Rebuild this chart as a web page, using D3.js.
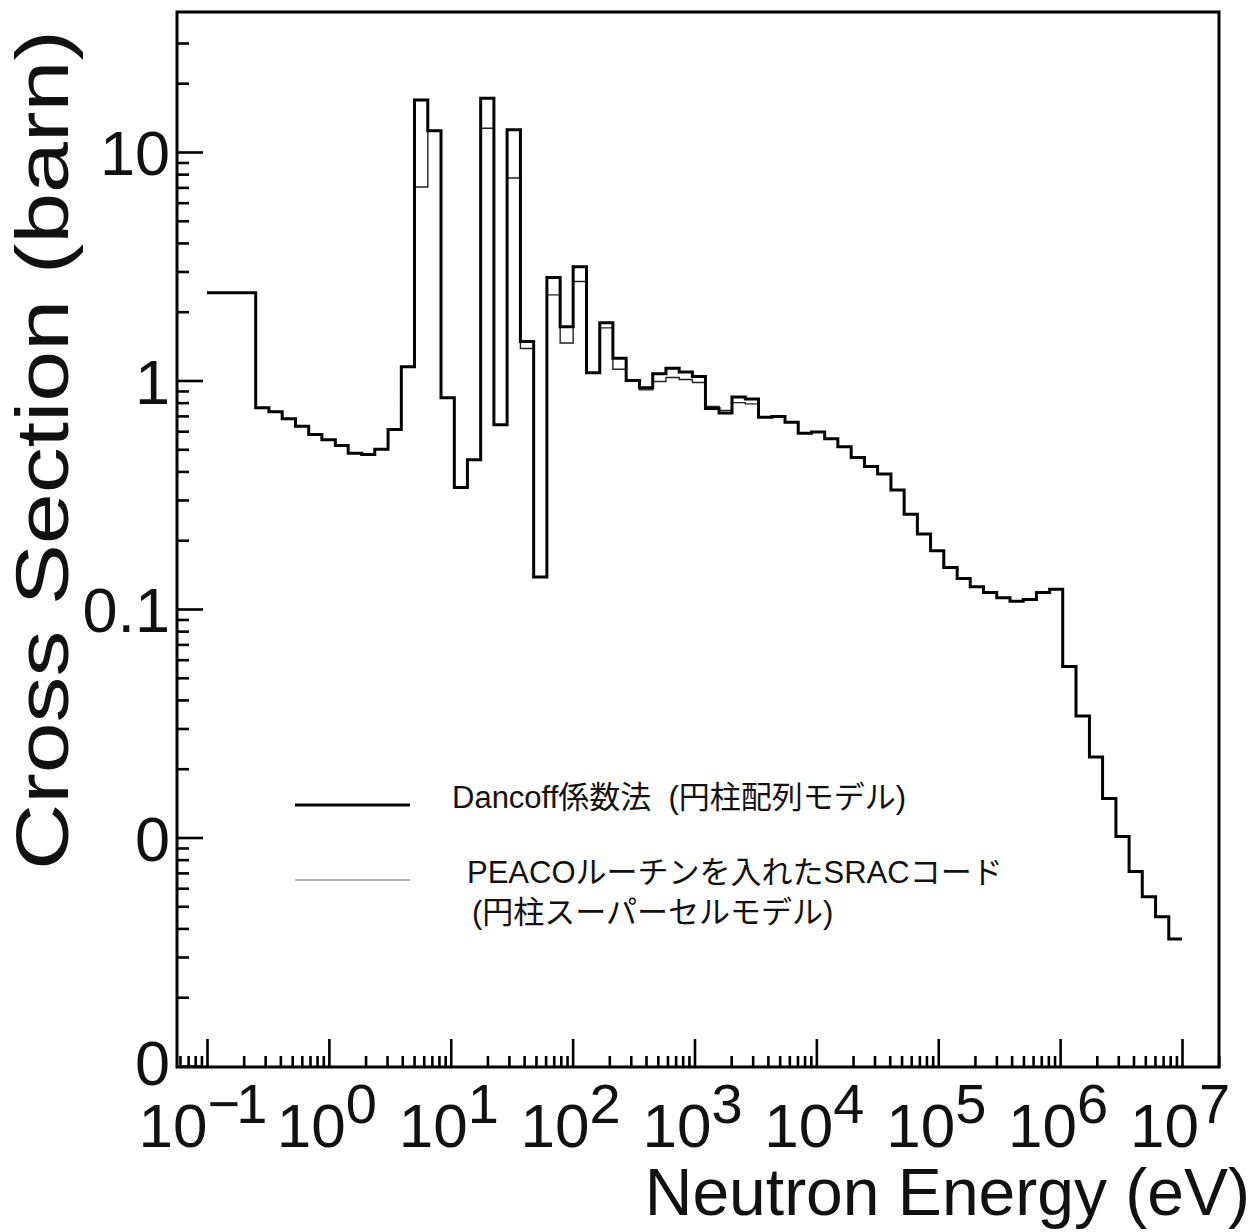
<!DOCTYPE html>
<html>
<head>
<meta charset="utf-8">
<script src="https://cdn.jsdelivr.net/npm/d3@7"></script>
<style>
    body { margin: 0; background: #fff; }
    svg { display: block; }
    text { font-family: "Liberation Sans", Arial, Helvetica, "Noto Sans CJK JP", sans-serif; fill: #111; }
</style>
</head>
<body>
<div id="chart"></div>
<script>
// group boundaries (eV), lowest to highest
var energyEdges = [0.1, 0.251, 0.322, 0.414, 0.532, 0.683, 0.876, 1.13, 1.44, 1.86, 2.38, 3.06, 3.93, 5.04,
    6.48, 8.32, 10.7, 13.7, 17.6, 22.6, 29.0, 37.3, 47.9, 61.5, 79.0, 101, 130, 167, 214, 275, 354, 454,
    583, 749, 961, 1230, 1590, 2030, 2610, 3350, 4310, 5530, 7100, 9120, 11700, 15000, 19300, 24800,
    31800, 40900, 52500, 67400, 86500, 111000, 143000, 183000, 235000, 302000, 388000, 498000, 639000,
    821000, 1050000, 1350000, 1740000, 2230000, 2870000, 3680000, 4720000, 6070000, 7790000, 10000000];

// group cross sections (barn) - Dancoff method (thick line)
var dancoffXS = [2.42, 0.76, 0.73, 0.68, 0.63, 0.58, 0.55, 0.52, 0.48, 0.475, 0.50, 0.61, 1.15,
    16.9, 12.4, 0.84, 0.34, 0.45, 17.2, 0.64, 12.5, 1.48, 0.138, 2.82, 1.72, 3.15,
    1.08, 1.79, 1.25, 1.0, 0.93, 1.07, 1.13, 1.09, 1.04, 0.755, 0.72, 0.846, 0.83,
    0.69, 0.695, 0.657, 0.587, 0.595, 0.556, 0.513, 0.46, 0.42, 0.39, 0.332, 0.26, 0.213,
    0.18, 0.152, 0.136, 0.125, 0.118, 0.112, 0.108, 0.11, 0.118, 0.122,
    0.056, 0.034, 0.0225, 0.0148, 0.0101, 0.0071, 0.0055, 0.0045, 0.0036];

// PEACO / SRAC (thin line)
var peacoXS = [2.42, 0.76, 0.73, 0.68, 0.63, 0.58, 0.55, 0.52, 0.48, 0.475, 0.50, 0.61, 1.15,
    7.03, 12.4, 0.84, 0.34, 0.45, 12.7, 0.64, 7.7, 1.38, 0.138, 2.37, 1.46, 2.71,
    1.08, 1.70, 1.12, 1.0, 0.91, 0.99, 1.03, 1.01, 0.98, 0.77, 0.74, 0.80, 0.79,
    0.69, 0.695, 0.657, 0.587, 0.595, 0.556, 0.513, 0.46, 0.42, 0.39, 0.332, 0.26, 0.213,
    0.18, 0.152, 0.136, 0.125, 0.118, 0.112, 0.108, 0.11, 0.118, 0.122,
    0.056, 0.034, 0.0225, 0.0148, 0.0101, 0.0071, 0.0055, 0.0045, 0.0036];

var xTickValues = [0.1, 1, 10, 100, 1e3, 1e4, 1e5, 1e6, 1e7];
var xTickExponents = ["\u22121", "0", "1", "2", "3", "4", "5", "6", "7"];
var yTickValues = [0.001, 0.01, 0.1, 1, 10];
var yTickLabels = ["0", "0", "0.1", "1", "10"];

var legendLabels = ["Dancoff係数法  (円柱配列モデル)", "PEACOルーチンを入れたSRACコード", "(円柱スーパーセルモデル)"];

var totalWidth = 1259;
var totalHeight = 1232;
var frame = { left: 177, top: 12, right: 1219, bottom: 1067 };

var svg = d3.select('#chart').append('svg')
    .attr('width', totalWidth)
    .attr('height', totalHeight);

var xScale = d3.scaleLog().domain([0.1, 1e7]).range([207, 1182]);
var yScale = d3.scaleLog().domain([0.001, 10]).range([1066, 152]);

function inFrameX(v) { var p = xScale(v); return p > frame.left + 1 && p <= frame.right; }
function inFrameY(v) { var p = yScale(v); return p < frame.bottom - 1 && p > frame.top + 8; }

// minor ticks 2..9 in every decade
var xMinor = [], yMinor = [];
for (var k = -2; k <= 7; k++) {
    for (var m = 2; m <= 9; m++) {
        var v = m * Math.pow(10, k);
        if (inFrameX(v)) xMinor.push(v);
    }
}
for (var k = -3; k <= 1; k++) {
    for (var m = 2; m <= 9; m++) {
        var v = m * Math.pow(10, k);
        if (inFrameY(v)) yMinor.push(v);
    }
}

// x axis ticks (pointing up into the plot)
var xMinorGroup = svg.append('g').attr('transform', 'translate(0,' + frame.bottom + ')')
    .call(d3.axisBottom(xScale).tickValues(xMinor).tickSize(-11).tickFormat(''));
var xMajorGroup = svg.append('g').attr('transform', 'translate(0,' + frame.bottom + ')')
    .call(d3.axisBottom(xScale).tickValues(xTickValues).tickSize(-28).tickFormat(''));

// y axis ticks (pointing right into the plot)
var yMinorGroup = svg.append('g').attr('transform', 'translate(' + frame.left + ',0)')
    .call(d3.axisLeft(yScale).tickValues(yMinor).tickSize(-12).tickFormat(''));
var yMajorGroup = svg.append('g').attr('transform', 'translate(' + frame.left + ',0)')
    .call(d3.axisLeft(yScale).tickValues(yTickValues).tickSize(-26).tickPadding(7)
        .tickFormat(function(d, i) { return yTickLabels[i]; }));

[xMinorGroup, xMajorGroup, yMinorGroup, yMajorGroup].forEach(function(g) {
    g.selectAll('.domain').remove();
    g.selectAll('line').attr('stroke', '#000').attr('stroke-width', 2.6);
});
yMajorGroup.selectAll('text')
    .attr('font-size', 63)
    .attr('dy', (d, i) => i === 0 ? '0.3em' : '0.36em')
    .attr('fill', '#111')
    .style('font-family', '"Liberation Sans", Arial, sans-serif');

// x tick labels: 10 with exponent
var xLabels = svg.append('g').selectAll('text')
    .data(xTickValues)
    .enter()
    .append('text')
    .attr('x', (d, i) => xScale(d) - (i === 0 ? 6 : 2))
    .attr('y', 1147)
    .attr('text-anchor', 'middle')
    .attr('font-size', 62);
xLabels.append('tspan').text('10');
xLabels.append('tspan')
    .attr('dy', -24)
    .attr('font-size', 56)
    .attr('letter-spacing', (d, i) => i === 0 ? -4 : 0)
    .text((d, i) => xTickExponents[i]);

// frame
svg.append('rect')
    .attr('x', frame.left)
    .attr('y', frame.top)
    .attr('width', frame.right - frame.left)
    .attr('height', frame.bottom - frame.top)
    .attr('fill', 'none')
    .attr('stroke', '#000')
    .attr('stroke-width', 3);

// step histograms
function stepPoints(values) {
    var pts = values.map(function(v, i) { return { e: energyEdges[i], v: v }; });
    pts.push({ e: energyEdges[values.length], v: values[values.length - 1] });
    return pts;
}
var stepLine = d3.line()
    .x(d => xScale(d.e))
    .y(d => yScale(d.v))
    .curve(d3.curveStepAfter);

svg.append('path')
    .datum(stepPoints(peacoXS))
    .attr('d', stepLine)
    .attr('fill', 'none')
    .attr('stroke', '#222')
    .attr('stroke-width', 1.4);

svg.append('path')
    .datum(stepPoints(dancoffXS))
    .attr('d', stepLine)
    .attr('fill', 'none')
    .attr('stroke', '#000')
    .attr('stroke-width', 3);

// legend
var legend = svg.append('g');
legend.append('line')
    .attr('x1', 295).attr('x2', 410)
    .attr('y1', 805).attr('y2', 805)
    .attr('stroke', '#000').attr('stroke-width', 3);
legend.append('line')
    .attr('x1', 295).attr('x2', 410)
    .attr('y1', 880).attr('y2', 880)
    .attr('stroke', '#999').attr('stroke-width', 1.6);
legend.append('text')
    .attr('x', 452).attr('y', 808)
    .attr('font-size', 31)
    .style('white-space', 'pre')
    .text(legendLabels[0]);
legend.append('text')
    .attr('x', 467).attr('y', 883)
    .attr('font-size', 31)
    .text(legendLabels[1]);
legend.append('text')
    .attr('x', 472).attr('y', 923)
    .attr('font-size', 31)
    .text(legendLabels[2]);

// axis titles
svg.append('text')
    .attr('transform', 'translate(68,450) rotate(-90)')
    .attr('text-anchor', 'middle')
    .attr('font-size', 74)
    .attr('textLength', 840)
    .attr('lengthAdjust', 'spacingAndGlyphs')
    .text('Cross Section (barn)');

svg.append('text')
    .attr('x', 1250)
    .attr('y', 1215)
    .attr('text-anchor', 'end')
    .attr('font-size', 66)
    .text('Neutron Energy (eV)');
</script>
</body>
</html>
